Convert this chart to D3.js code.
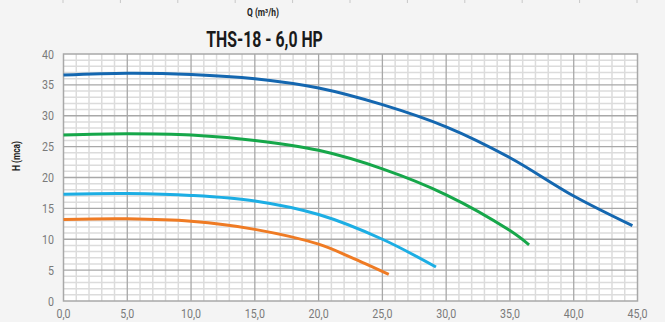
<!DOCTYPE html>
<html><head><meta charset="utf-8">
<script src="https://cdn.jsdelivr.net/npm/d3@7"></script>
<style>
html,body{margin:0;padding:0;background:#f4f4f4;}
svg{display:block;}
text{font-family:"Roboto","Liberation Sans",sans-serif;}
</style></head>
<body><svg id="c" width="665" height="322"></svg>
<script>
const title = "THS-18 - 6,0 HP";
const xLabel = "Q (m³/h)";
const yLabel = "H (mca)";
const xTicks = [0,5,10,15,20,25,30,35,40,45];
const yTicks = [0,5,10,15,20,25,30,35,40];
const seriesNames = ["blue","green","lightblue","orange"];
const seriesColors = ["#1467b0","#16a74a","#1caee4","#ef7b24"];
const blueQ = [0,5,10,15,20,25,30,35,40,44.6];
const blueH = [36.6,36.9,36.7,36.0,34.5,31.8,28.2,23.2,17.0,12.2];
const greenQ = [0,5,10,15,20,25,30,35,36.5];
const greenH = [26.9,27.1,26.9,26.0,24.4,21.4,17.2,11.4,9.1];
const lblueQ = [0,5,10,15,20,25,29.2];
const lblueH = [17.3,17.4,17.1,16.2,14.0,10.0,5.5];
const orangeQ = [0,5,10,15,20,22.5,25.5];
const orangeH = [13.2,13.3,12.9,11.6,9.2,7.1,4.3];
const seriesQ = [blueQ,greenQ,lblueQ,orangeQ];
const seriesH = [blueH,greenH,lblueH,orangeH];

const svg = d3.select("#c");
const L=63.5, R=637.5, T=54, B=301;
const x = d3.scaleLinear().domain([0,45]).range([L,R]);
const y = d3.scaleLinear().domain([0,40]).range([B,T]);

const topScale = d3.scaleLinear().domain([0,10]).range([63,637]);
svg.append("g").selectAll("line").data(d3.range(0,11)).join("line")
  .attr("x1",d=>topScale(d)).attr("x2",d=>topScale(d)).attr("y1",0).attr("y2",3)
  .attr("stroke","#c8c8c8").attr("stroke-width",1);

svg.append("rect").attr("x",L).attr("y",T).attr("width",R-L).attr("height",B-T).attr("fill","#fff");

const g = svg.append("g");
g.selectAll(".vx").data(d3.range(1,45).filter(d=>d%5)).join("line")
  .attr("x1",d=>x(d)).attr("x2",d=>x(d)).attr("y1",T).attr("y2",B)
  .attr("stroke","#dcdcdc").attr("stroke-width",1.5);
g.selectAll(".hy").data(d3.range(1,40).filter(d=>d%5)).join("line")
  .attr("y1",d=>y(d)).attr("y2",d=>y(d)).attr("x1",L).attr("x2",R)
  .attr("stroke","#dcdcdc").attr("stroke-width",1.5);
g.selectAll(".VX").data(xTicks.slice(1,-1)).join("line")
  .attr("x1",d=>x(d)).attr("x2",d=>x(d)).attr("y1",T).attr("y2",B)
  .attr("stroke","#a8a8a8").attr("stroke-width",1.3);
g.selectAll(".HY").data(yTicks.slice(1,-1)).join("line")
  .attr("y1",d=>y(d)).attr("y2",d=>y(d)).attr("x1",L).attr("x2",R)
  .attr("stroke","#a8a8a8").attr("stroke-width",1.3);
g.append("rect").attr("x",L).attr("y",T).attr("width",R-L).attr("height",B-T)
  .attr("fill","none").attr("stroke","#a8a8a8").attr("stroke-width",1.5);

const SX = 0.82;
const fmt = d=>d3.format(".1f")(d).replace(".",",");
svg.append("g").selectAll("text").data(xTicks).join("text")
  .attr("transform",d=>`translate(${x(d)},318) scale(${SX},1)`).attr("text-anchor","middle")
  .attr("font-size",13).attr("fill","#7a7a7a").text(fmt);
svg.append("g").selectAll("text").data(yTicks).join("text")
  .attr("transform",d=>`translate(54,${y(d)+4.5}) scale(${SX},1)`).attr("text-anchor","end")
  .attr("font-size",13).attr("fill","#7a7a7a").text(d=>d);

const line = d3.line().curve(d3.curveCatmullRom.alpha(0.5)).x(d=>x(d[0])).y(d=>y(d[1]));
seriesNames.forEach((n,i)=>{
  const pts = seriesQ[i].map((q,j)=>[q,seriesH[i][j]]);
  svg.append("path").attr("d",line(pts)).attr("fill","none")
    .attr("stroke",seriesColors[i]).attr("stroke-width",3).attr("stroke-linecap","butt");
});

svg.append("text").attr("transform","translate(264.5,47) scale(0.72,1)").attr("text-anchor","middle")
  .attr("font-size",22).attr("font-weight","bold").attr("fill","#1a1a1a").text(title);
svg.append("text").attr("transform","translate(263,16) scale(0.8,1)").attr("text-anchor","middle")
  .attr("font-size",10.5).attr("font-weight","bold").attr("fill","#222").text(xLabel);
svg.append("text").attr("transform","translate(19.5,156) rotate(-90) scale(0.8,1)").attr("text-anchor","middle")
  .attr("font-size",10.5).attr("font-weight","bold").attr("fill","#222").text(yLabel);
</script></body></html>
